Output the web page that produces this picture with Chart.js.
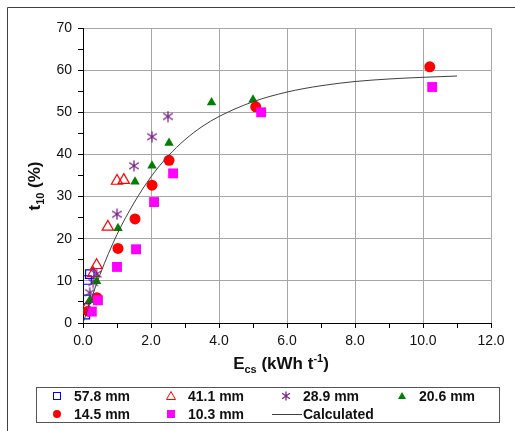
<!DOCTYPE html>
<html>
<head>
<meta charset="utf-8">
<script src="https://cdn.jsdelivr.net/npm/chart.js@4.4.1/dist/chart.umd.min.js"></script>
<style>
  html, body { margin: 0; padding: 0; background: #fff; }
  #wrap { width: 515px; height: 431px; position: relative; }
</style>
</head>
<body>
<div id="wrap"><canvas id="myChart" width="515" height="431"></canvas></div>
<script>
// data: [Ecs, t10]
var d578 = [[0.07, 2.0], [0.1, 5.6], [0.12, 10.2], [0.2, 11.6]];
var d411 = [[0.1, 3.6], [0.3, 11.8], [0.4, 13.7], [0.73, 22.8], [1.0, 33.7], [1.2, 33.9]];
var d289 = [[0.2, 7.2], [0.3, 9.6], [0.4, 11.6], [1.0, 25.8], [1.5, 37.3], [2.03, 44.2], [2.5, 49.0]];
var d206 = [[0.2, 5.4], [0.4, 9.9], [1.03, 22.5], [1.53, 33.5], [2.03, 37.3], [2.53, 42.7], [3.78, 52.3], [5.0, 53.0]];
var d145 = [[0.15, 2.8], [0.41, 6.0], [1.03, 17.7], [1.53, 24.7], [2.03, 32.7], [2.53, 38.6], [5.08, 51.3], [10.2, 60.8]];
var d103 = [[0.26, 2.7], [0.44, 5.4], [1.0, 13.3], [1.56, 17.5], [2.09, 28.7], [2.65, 35.5], [5.24, 50.0], [10.27, 56.0]];
var calc = [[0, 0], [0.5, 11.5], [1, 21.0], [1.5, 28.5], [2, 34.7], [2.5, 39.6], [3, 43.5], [3.5, 46.6],
            [4, 49.0], [5, 52.5], [6, 54.8], [7, 56.3], [8, 57.3], [9, 57.9], [10, 58.3], [11, 58.6]];

var seriesNames = ["57.8 mm", "41.1 mm", "28.9 mm", "20.6 mm", "14.5 mm", "10.3 mm", "Calculated"];
var xTicks = [0, 2, 4, 6, 8, 10, 12];
var yTicks = [0, 10, 20, 30, 40, 50, 60, 70];

function pts(arr){
    return arr.map(function(p){ return {x: p[0], y: p[1]}; });
}

// six-armed asterisk marker
function asterisk(size, color){
    var c = document.createElement('canvas');
    c.width = size; c.height = size;
    var g = c.getContext('2d');
    var h = size / 2, r = size / 2 - 0.5;
    g.strokeStyle = color;
    g.lineWidth = 1.3;
    g.beginPath();
    g.moveTo(h, h - r); g.lineTo(h, h + r);
    g.moveTo(h - r * 0.87, h - r * 0.6); g.lineTo(h + r * 0.87, h + r * 0.6);
    g.moveTo(h - r * 0.87, h + r * 0.6); g.lineTo(h + r * 0.87, h - r * 0.6);
    g.stroke();
    return c;
}

var PURPLE = '#7a2288';
var star = asterisk(12, PURPLE);
var starSmall = asterisk(10, PURPLE);

var FONT = '"Liberation Sans", Arial, sans-serif';

// frame, axis titles and legend drawn by hand
var extras = {
    id: 'extras',
    beforeDraw: function(chart){
        var ctx = chart.ctx;
        ctx.save();
        ctx.fillStyle = '#fff';
        ctx.fillRect(0, 0, chart.width, chart.height);
        ctx.strokeStyle = '#404040';
        ctx.lineWidth = 1;
        ctx.beginPath();
        ctx.moveTo(7.5, 431); ctx.lineTo(7.5, 7.5); ctx.lineTo(515, 7.5);
        ctx.stroke();
        ctx.restore();
    },
    afterDraw: function(chart){
        var ctx = chart.ctx;
        ctx.save();
        ctx.fillStyle = '#111';
        ctx.textBaseline = 'alphabetic';

        // x title
        var big = 'bold 17px ' + FONT, small = 'bold 11px ' + FONT;
        var parts = [['E', big, 0], ['cs', small, 4], [' (kWh t', big, 0], ['-1', small, -7], [')', big, 0]];
        var w = 0;
        parts.forEach(function(p){ ctx.font = p[1]; w += ctx.measureText(p[0]).width; });
        var x = 281 - w / 2, y = 369;
        parts.forEach(function(p){
            ctx.font = p[1];
            ctx.fillText(p[0], x, y + p[2]);
            x += ctx.measureText(p[0]).width;
        });

        // y title
        ctx.translate(40, 186);
        ctx.rotate(-Math.PI / 2);
        var yparts = [['t', big, 0], ['10', small, 4], [' (%)', big, 0]];
        w = 0;
        yparts.forEach(function(p){ ctx.font = p[1]; w += ctx.measureText(p[0]).width; });
        x = -w / 2;
        yparts.forEach(function(p){
            ctx.font = p[1];
            ctx.fillText(p[0], x, p[2]);
            x += ctx.measureText(p[0]).width;
        });
        ctx.setTransform(1, 0, 0, 1, 0, 0);

        // legend box
        ctx.strokeStyle = '#555';
        ctx.lineWidth = 1;
        ctx.strokeRect(36.5, 387.5, 463, 35);

        var cols = [57, 171, 286, 402];
        var rows = [396, 414];
        var items = [
            {name: seriesNames[0], c: 0, r: 0, draw: function(x, y){ ctx.strokeStyle = '#0000ff'; ctx.lineWidth = 1; ctx.strokeRect(x - 3.5, y - 3.5, 7, 7); }},
            {name: seriesNames[1], c: 1, r: 0, draw: function(x, y){ ctx.strokeStyle = '#ff0000'; ctx.lineWidth = 1; ctx.beginPath(); ctx.moveTo(x, y - 4.5); ctx.lineTo(x + 4.5, y + 3.5); ctx.lineTo(x - 4.5, y + 3.5); ctx.closePath(); ctx.stroke(); }},
            {name: seriesNames[2], c: 2, r: 0, draw: function(x, y){ ctx.drawImage(starSmall, x - 5, y - 5); }},
            {name: seriesNames[3], c: 3, r: 0, draw: function(x, y){ ctx.fillStyle = '#008000'; ctx.beginPath(); ctx.moveTo(x, y - 4); ctx.lineTo(x + 4, y + 3); ctx.lineTo(x - 4, y + 3); ctx.closePath(); ctx.fill(); }},
            {name: seriesNames[4], c: 0, r: 1, draw: function(x, y){ ctx.fillStyle = '#ff0000'; ctx.beginPath(); ctx.arc(x, y, 4, 0, Math.PI * 2); ctx.fill(); }},
            {name: seriesNames[5], c: 1, r: 1, draw: function(x, y){ ctx.fillStyle = '#ff00ff'; ctx.fillRect(x - 4, y - 4, 8, 8); }},
            {name: seriesNames[6], c: 2, r: 1, draw: function(x, y){ ctx.strokeStyle = '#404040'; ctx.lineWidth = 1; ctx.beginPath(); ctx.moveTo(x - 14, y + 0.5); ctx.lineTo(x + 16, y + 0.5); ctx.stroke(); }}
        ];
        items.forEach(function(it){
            var mx = cols[it.c], my = rows[it.r];
            it.draw(mx, my);
            ctx.fillStyle = '#111';
            ctx.font = 'bold 14px ' + FONT;
            ctx.textBaseline = 'middle';
            ctx.fillText(it.name, mx + 17, my + 1);
        });
        ctx.restore();
    }
};

// lower order is drawn on top, so the later series sit above the earlier ones
new Chart('myChart', {
    type: 'scatter',
    data: {
        datasets: [
            {
                label: seriesNames[6],
                data: pts(calc),
                showLine: true,
                borderColor: '#404040',
                borderWidth: 1,
                pointRadius: 0,
                cubicInterpolationMode: 'monotone',
                order: 0
            },
            {
                label: seriesNames[0],
                data: pts(d578),
                pointStyle: 'rect',
                pointRadius: 6,
                borderColor: '#0000ff',
                backgroundColor: 'rgba(0,0,0,0)',
                borderWidth: 1.2,
                order: 6
            },
            {
                label: seriesNames[1],
                data: pts(d411),
                pointStyle: 'triangle',
                pointRadius: 6.5,
                borderColor: '#ff0000',
                backgroundColor: 'rgba(0,0,0,0)',
                borderWidth: 1.2,
                order: 5
            },
            {
                label: seriesNames[2],
                data: pts(d289),
                pointStyle: star,
                pointRadius: 6,
                order: 4
            },
            {
                label: seriesNames[3],
                data: pts(d206),
                pointStyle: 'triangle',
                pointRadius: 5.5,
                borderColor: '#008000',
                backgroundColor: '#008000',
                borderWidth: 0,
                order: 3
            },
            {
                label: seriesNames[4],
                data: pts(d145),
                pointStyle: 'circle',
                pointRadius: 5.5,
                borderColor: '#ff0000',
                backgroundColor: '#ff0000',
                borderWidth: 0,
                order: 2
            },
            {
                label: seriesNames[5],
                data: pts(d103),
                pointStyle: 'rect',
                pointRadius: 7,
                borderColor: '#ff00ff',
                backgroundColor: '#ff00ff',
                borderWidth: 0,
                order: 1
            }
        ]
    },
    options: {
        responsive: false,
        animation: false,
        layout: {
            padding: {left: 0, top: 28, right: 24, bottom: 0}
        },
        plugins: {
            legend: {display: false},
            tooltip: {enabled: false}
        },
        scales: {
            x: {
                type: 'linear',
                min: xTicks[0],
                max: xTicks[xTicks.length - 1],
                afterFit: function(scale){ scale.height = 108; },
                afterBuildTicks: function(scale){
                    var t = [];
                    for (var v = xTicks[0]; v <= xTicks[xTicks.length - 1]; v += 1) t.push({value: v});
                    scale.ticks = t;
                },
                border: {color: '#000', width: 1},
                grid: {
                    color: function(c){ return (c.tick && xTicks.indexOf(c.tick.value) >= 0 && c.tick.value > 0) ? '#a6a6a6' : 'rgba(0,0,0,0)'; },
                    tickColor: '#000',
                    tickLength: 5,
                    lineWidth: 1
                },
                ticks: {
                    padding: 5,
                    color: '#111',
                    font: {family: FONT, size: 14},
                    maxRotation: 0,
                    autoSkip: false,
                    callback: function(v){ return xTicks.indexOf(v) >= 0 ? v.toFixed(1) : ''; }
                }
            },
            y: {
                type: 'linear',
                min: yTicks[0],
                max: yTicks[yTicks.length - 1],
                afterFit: function(scale){ scale.width = 83; },
                afterBuildTicks: function(scale){
                    var t = [];
                    for (var v = yTicks[0]; v <= yTicks[yTicks.length - 1]; v += 5) t.push({value: v});
                    scale.ticks = t;
                },
                border: {color: '#000', width: 1},
                grid: {
                    color: function(c){ return (c.tick && yTicks.indexOf(c.tick.value) >= 0 && c.tick.value > 0) ? '#a6a6a6' : 'rgba(0,0,0,0)'; },
                    tickColor: '#000',
                    tickLength: 5,
                    lineWidth: 1
                },
                ticks: {
                    padding: 6,
                    color: '#111',
                    font: {family: FONT, size: 14},
                    autoSkip: false,
                    callback: function(v){ return yTicks.indexOf(v) >= 0 ? String(v) : ''; }
                }
            }
        }
    },
    plugins: [extras]
});
</script>
</body>
</html>
